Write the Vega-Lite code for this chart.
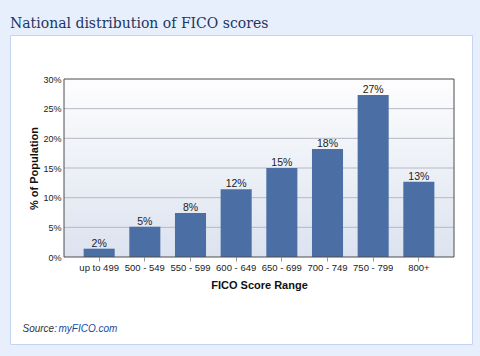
{
  "$schema": "https://vega.github.io/schema/vega-lite/v6.json",
  "width": 462,
  "height": 309,
  "autosize": {"type": "none"},
  "padding": {"left": 10, "top": 35, "right": 8, "bottom": 12},
  "background": "#e8effc",
  "title": {
    "text": "National distribution of FICO scores",
    "anchor": "start",
    "frame": "group",
    "font": "DejaVu Serif",
    "fontSize": 14,
    "fontWeight": "normal",
    "color": "#1b365f",
    "baseline": "alphabetic",
    "offset": 9,
    "dy": 16
  },
  "config": {
    "view": {"fill": "#ffffff", "stroke": "#c6d3f1", "strokeWidth": 1},
    "font": "Liberation Sans"
  },
  "resolve": {"scale": {"x": "independent"}, "axis": {"x": "independent"}},
  "layer": [
    {
      "layer": [
        {
          "data": {"values": [{"box": "plot"}]},
          "mark": {
            "type": "rect",
            "color": {
              "gradient": "linear",
              "x1": 0, "y1": 0, "x2": 0, "y2": 1,
              "stops": [
                {"offset": 0, "color": "#fdfdfe"},
                {"offset": 1, "color": "#dce3ef"}
              ]
            }
          },
          "encoding": {
            "x": {
              "datum": 0,
              "type": "quantitative",
              "scale": {"domain": [0, 1], "range": [54, 444], "nice": false, "zero": false},
              "axis": {
                "orient": "bottom",
                "labels": false,
                "ticks": false,
                "domain": false,
                "grid": false,
                "title": "Source:",
                "titleX": 12,
                "titleY": -13,
                "titleAngle": 0,
                "titleAlign": "left",
                "titleAnchor": "start",
                "titleBaseline": "alphabetic",
                "titleFont": "Liberation Sans",
                "titleFontSize": 10,
                "titleFontStyle": "italic",
                "titleFontWeight": "normal",
                "titleColor": "#333333"
              }
            },
            "x2": {"datum": 1},
            "y": {"datum": 0, "type": "quantitative", "scale": {"domain": [0, 30], "range": [222, 44], "nice": false}},
            "y2": {"datum": 30}
          }
        },
        {
          "data": {"values": [{"g": 5}, {"g": 10}, {"g": 15}, {"g": 20}, {"g": 25}]},
          "mark": {"type": "rule", "color": "#b6b9c2", "strokeWidth": 1},
          "encoding": {
            "x": {"datum": 0, "type": "quantitative"},
            "x2": {"datum": 1},
            "y": {"field": "g", "type": "quantitative"}
          }
        }
      ]
    },
    {
      "data": {
        "values": [
          {"range": "up to 499", "pct": 1.4, "label": "2%"},
          {"range": "500 - 549", "pct": 5.1, "label": "5%"},
          {"range": "550 - 599", "pct": 7.4, "label": "8%"},
          {"range": "600 - 649", "pct": 11.4, "label": "12%"},
          {"range": "650 - 699", "pct": 15.0, "label": "15%"},
          {"range": "700 - 749", "pct": 18.2, "label": "18%"},
          {"range": "750 - 799", "pct": 27.3, "label": "27%"},
          {"range": "800+", "pct": 12.7, "label": "13%"}
        ]
      },
      "encoding": {
        "x": {
          "field": "range",
          "type": "nominal",
          "sort": null,
          "scale": {"range": [54, 444], "paddingInner": 0.32, "paddingOuter": 0.43},
          "axis": {
            "orient": "bottom",
            "offset": -87,
            "domain": false,
            "ticks": true,
            "tickSize": 4,
            "tickColor": "#999999",
            "labelAngle": 0,
            "labelPadding": 1,
            "labelFont": "Liberation Sans",
            "labelFontSize": 9.5,
            "labelColor": "#222222",
            "title": "FICO Score Range",
            "titleFont": "Liberation Sans",
            "titleFontSize": 11,
            "titleFontWeight": "bold",
            "titleColor": "#111111",
            "titlePadding": 8
          }
        },
        "y": {
          "field": "pct",
          "type": "quantitative",
          "scale": {"domain": [0, 30], "range": [222, 44], "nice": false},
          "axis": {
            "orient": "left",
            "offset": -54,
            "values": [0, 5, 10, 15, 20, 25, 30],
            "labelExpr": "datum.value + '%'",
            "grid": false,
            "ticks": false,
            "domain": false,
            "labelPadding": 3,
            "labelFont": "Liberation Sans",
            "labelFontSize": 9,
            "labelColor": "#222222",
            "title": "% of Population",
            "titleFont": "Liberation Sans",
            "titleFontSize": 11,
            "titleFontWeight": "bold",
            "titleColor": "#111111",
            "titlePadding": 3
          }
        }
      },
      "layer": [
        {"mark": {"type": "bar", "color": "#4b6fa5"}},
        {
          "mark": {"type": "text", "baseline": "alphabetic", "dy": -2, "fontSize": 10.5, "color": "#222222", "font": "Liberation Sans"},
          "encoding": {"text": {"field": "label"}}
        }
      ]
    },
    {
      "data": {"values": [{"box": "frame"}]},
      "mark": {"type": "rect", "fill": null, "fillOpacity": 0, "stroke": "#4d4d4d", "strokeWidth": 1},
      "encoding": {
        "x": {
          "datum": 0,
          "type": "quantitative",
          "scale": {"domain": [0, 1], "range": [54, 444], "nice": false, "zero": false},
          "axis": {
            "orient": "bottom",
            "labels": false,
            "ticks": false,
            "domain": false,
            "grid": false,
            "title": "myFICO.com",
            "titleX": 48,
            "titleY": -13,
            "titleAngle": 0,
            "titleAlign": "left",
            "titleAnchor": "start",
            "titleBaseline": "alphabetic",
            "titleFont": "Liberation Sans",
            "titleFontSize": 10,
            "titleFontStyle": "italic",
            "titleFontWeight": "normal",
            "titleColor": "#1a4a9a"
          }
        },
        "x2": {"datum": 1},
        "y": {"datum": 0, "type": "quantitative"},
        "y2": {"datum": 30}
      }
    }
  ]
}
